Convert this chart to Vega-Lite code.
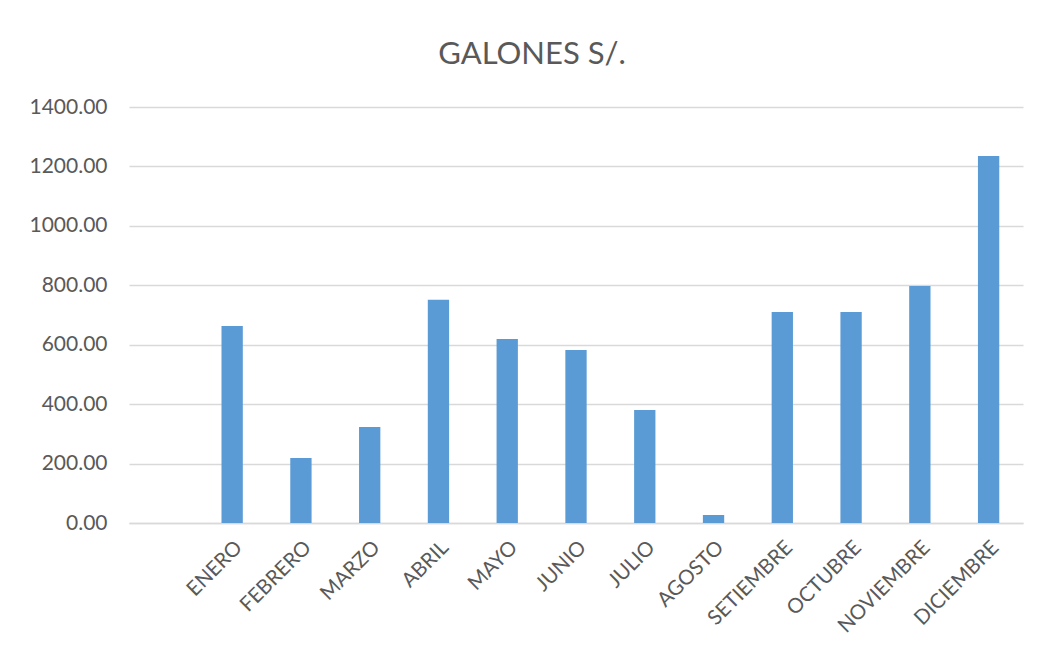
{
  "$schema": "https://vega.github.io/schema/vega-lite/v6.json",
  "autosize": "none",
  "width": 894,
  "height": 416,
  "padding": {"left": 129, "top": 107, "right": 16, "bottom": 133},
  "background": "white",
  "title": {
    "text": "GALONES S/.",
    "fontSize": 31,
    "font": "Lato",
    "fontWeight": "normal",
    "color": "#595959",
    "anchor": "middle",
    "dx": -44,
    "offset": 25
  },
  "data": {
    "values": [
      {"mes": " ", "galones": null},
      {"mes": "ENERO", "galones": 663},
      {"mes": "FEBRERO", "galones": 219},
      {"mes": "MARZO", "galones": 323},
      {"mes": "ABRIL", "galones": 751},
      {"mes": "MAYO", "galones": 619},
      {"mes": "JUNIO", "galones": 582},
      {"mes": "JULIO", "galones": 380},
      {"mes": "AGOSTO", "galones": 27},
      {"mes": "SETIEMBRE", "galones": 710},
      {"mes": "OCTUBRE", "galones": 710},
      {"mes": "NOVIEMBRE", "galones": 798},
      {"mes": "DICIEMBRE", "galones": 1235}
    ]
  },
  "mark": {"type": "bar", "color": "#5b9bd5"},
  "encoding": {
    "x": {
      "field": "mes",
      "type": "nominal",
      "sort": null,
      "scale": {
        "domain": [" ", "ENERO", "FEBRERO", "MARZO", "ABRIL", "MAYO", "JUNIO", "JULIO", "AGOSTO", "SETIEMBRE", "OCTUBRE", "NOVIEMBRE", "DICIEMBRE"],
        "paddingInner": 0.69,
        "paddingOuter": 0.345
      },
      "axis": {
        "title": null,
        "labelAngle": -45,
        "labelFont": "Lato",
        "labelFontSize": 20.5,
        "labelColor": "#595959",
        "ticks": false,
        "domain": true,
        "domainColor": "#d9d9d9",
        "domainWidth": 1.5,
        "labelPadding": 14
      }
    },
    "y": {
      "field": "galones",
      "type": "quantitative",
      "scale": {"domain": [0, 1400]},
      "axis": {
        "title": null,
        "values": [0, 200, 400, 600, 800, 1000, 1200, 1400],
        "format": ".2f",
        "labelFont": "Lato",
        "labelFontSize": 21,
        "labelColor": "#595959",
        "ticks": false,
        "domain": false,
        "gridColor": "#d9d9d9",
        "gridWidth": 1.5,
        "labelPadding": 22
      }
    }
  },
  "config": {"view": {"stroke": null}}
}
